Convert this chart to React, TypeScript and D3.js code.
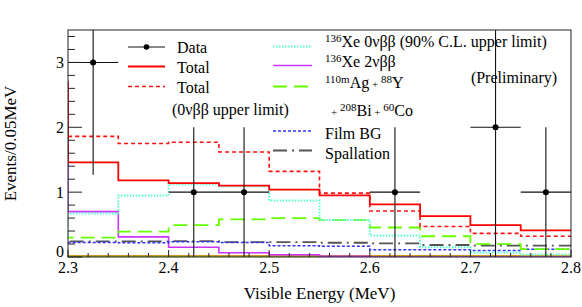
import React from 'react';
import * as d3 from 'd3';

// lower bin edges (first bin sits left of the frame, only its edge shows)
const binLow = [2.25, 2.3, 2.35, 2.4, 2.45, 2.5, 2.55, 2.6, 2.65, 2.7, 2.75];
const binWidth = 0.05;

const total = [2.66, 1.46, 1.18, 1.14, 1.1, 1.04, 0.95, 0.81, 0.63, 0.49, 0.41];
const totalUL = [2.7, 1.86, 1.75, 1.77, 1.62, 1.32, 0.985, 0.71, 0.47, 0.365, 0.32];
const xe0nu = [0.32, 0.67, 0.95, 1.12, 1.09, 0.87, 0.57, 0.33, 0.15, 0.07, 0.04];
const xe2nu = [1.75, 0.7, 0.31, 0.15, 0.066, 0.035, 0.01, 0, 0, 0, 0];
const agBiCo = [0.3, 0.3, 0.39, 0.49, 0.58, 0.6, 0.57, 0.455, 0.32, 0.2, 0.12];
const filmBG = [0.225, 0.225, 0.22, 0.235, 0.225, 0.175, 0.165, 0.11, 0.11, 0.1, 0.12];
const spallation = [0.24, 0.24, 0.24, 0.245, 0.23, 0.23, 0.22, 0.21, 0.185, 0.175, 0.175];
const otherA = [0.02, 0.02, 0.02, 0.02, 0.02, 0.02, 0.02, 0.02, 0.02, 0.02, 0.02];
const otherB = [0, 0, 0, 0, 0, 0, 0, 0, 0, 0, 0];

const dataX = [2.325, 2.425, 2.475, 2.625, 2.725, 2.775];
const dataY = [3, 1, 1, 1, 2, 1];
const dataErrLow = [1.73, 1, 1, 1, 2, 1];
const dataErrHigh = [1.73, 1, 1, 1, 2, 1];

const xTicks = [2.3, 2.4, 2.5, 2.6, 2.7, 2.8];
const yTicks = [0, 1, 2, 3];

const W = 582;
const H = 307;
const m = { left: 68, right: 11, top: 30, bottom: 50 };
const font = '"Liberation Serif", "DejaVu Serif", serif';

const App = () => {
  const x = d3.scaleLinear().domain([2.3, 2.8]).range([m.left, W - m.right]);
  const y = d3.scaleLinear().domain([0, 3.5]).range([H - m.bottom, m.top]);

  const step = (vals: number[]) => {
    const pts: [number, number][] = binLow.map((lo, i) => [lo, vals[i]]);
    pts.push([binLow[binLow.length - 1] + binWidth, vals[vals.length - 1]]);
    return d3.line<[number, number]>()
      .x(d => x(d[0]))
      .y(d => y(d[1]))
      .curve(d3.curveStepAfter)(pts) as string;
  };

  const series = [
    { vals: otherB, color: '#66dd00', dash: '', w: 2 },
    { vals: otherA, color: '#cc9922', dash: '', w: 1.5 },
    { vals: xe2nu, color: '#cc33ff', dash: '', w: 1.6 },
    { vals: spallation, color: '#555555', dash: '14,5,2,5', w: 1.8 },
    { vals: filmBG, color: '#3333ff', dash: '3,2', w: 1.5 },
    { vals: agBiCo, color: '#66ff00', dash: '14,7', w: 1.8 },
    { vals: xe0nu, color: '#55ffcc', dash: '1.5,1.5', w: 2 },
    { vals: totalUL, color: '#ff1111', dash: '4,3', w: 1.6 },
    { vals: total, color: '#ff0000', dash: '', w: 1.8 },
  ];

  const xMinor = d3.range(2.3, 2.8001, 0.02);
  const yMinor = d3.range(0, 3.5001, 0.2);

  const sup = { fontSize: 11 };
  const legendFont = 16;

  return (
    <div style={{ position: 'absolute', left: 0, top: 0 }}>
      <svg width={W} height={H} style={{ display: 'block', background: '#fff' }} fontFamily={font}>
        <defs>
          <clipPath id="plot">
            <rect x={m.left} y={m.top} width={W - m.left - m.right} height={H - m.top - m.bottom} />
          </clipPath>
        </defs>

        <g clipPath="url(#plot)">
          {series.map((s, i) => (
            <path key={i} d={step(s.vals)} fill="none" stroke={s.color}
              strokeWidth={s.w} strokeDasharray={s.dash || undefined} />
          ))}
          {dataX.map((dx, i) => (
            <g key={i} stroke="#111" strokeWidth={1.1}>
              <line x1={x(dx - binWidth / 2)} x2={x(dx + binWidth / 2)} y1={y(dataY[i])} y2={y(dataY[i])} />
              <line x1={x(dx)} x2={x(dx)} y1={y(dataY[i] - dataErrLow[i])} y2={y(dataY[i] + dataErrHigh[i])} />
              <circle cx={x(dx)} cy={y(dataY[i])} r={3} fill="#000" stroke="none" />
            </g>
          ))}
        </g>

        {/* frame */}
        <rect x={m.left} y={m.top} width={W - m.left - m.right} height={H - m.top - m.bottom}
          fill="none" stroke="#222" strokeWidth={1} />

        {/* x axis ticks */}
        {xMinor.map((t, i) => (
          <line key={'xm' + i} x1={x(t)} x2={x(t)} y1={y(0)} y2={y(0) - (i % 5 === 0 ? 7 : 4)}
            stroke="#222" strokeWidth={1} />
        ))}
        {xTicks.map(t => (
          <text key={'xt' + t} x={x(t)} y={273} textAnchor="middle" fontSize={16}>{t.toFixed(1)}</text>
        ))}

        {/* y axis ticks */}
        {yMinor.map((t, i) => (
          <line key={'ym' + i} x1={m.left} x2={m.left + (i % 5 === 0 ? 14 : 7)} y1={y(t)} y2={y(t)}
            stroke="#222" strokeWidth={1} />
        ))}
        {yTicks.map(t => (
          <text key={'yt' + t} x={64} y={t === 0 ? y(t) - 6 : y(t)} dy="0.35em" textAnchor="end" fontSize={16}>{t}</text>
        ))}

        <text x={(m.left + W - m.right) / 2} y={299} textAnchor="middle" fontSize={17}>Visible Energy (MeV)</text>
        <text transform={`translate(16,${(m.top + H - m.bottom) / 2}) rotate(-90)`} textAnchor="middle" fontSize={17}>
          Events/0.05MeV
        </text>

        {/* legend left column */}
        <g fontSize={legendFont}>
          <line x1={128} x2={165} y1={47} y2={47} stroke="#111" strokeWidth={1.1} />
          <circle cx={146.5} cy={47} r={2.8} fill="#000" />
          <text x={177} y={47} dy="0.35em">Data</text>

          <line x1={128} x2={165} y1={66.5} y2={66.5} stroke="#ff0000" strokeWidth={1.8} />
          <text x={177} y={67} dy="0.35em">Total</text>

          <line x1={128} x2={165} y1={86.5} y2={86.5} stroke="#ff1111" strokeWidth={1.6} strokeDasharray="4,3" />
          <text x={177} y={87} dy="0.35em">Total</text>
          <text x={172} y={109} dy="0.35em">(0νββ upper limit)</text>

          {/* right column */}
          <line x1={273} x2={312} y1={46.5} y2={46.5} stroke="#55ffcc" strokeWidth={2} strokeDasharray="1.5,1.5" />
          <text x={325} y={47} dy="0.35em">
            <tspan style={sup} dy="-5">136</tspan><tspan dy="5">Xe 0νββ (90% C.L. upper limit)</tspan>
          </text>

          <line x1={273} x2={312} y1={65.5} y2={65.5} stroke="#cc33ff" strokeWidth={1.6} />
          <text x={325} y={67} dy="0.35em">
            <tspan style={sup} dy="-5">136</tspan><tspan dy="5">Xe 2νββ</tspan>
          </text>

          <line x1={273} x2={312} y1={86.5} y2={86.5} stroke="#66ff00" strokeWidth={1.8} strokeDasharray="14,7" />
          <text x={325} y={88} dy="0.35em">
            <tspan style={sup} dy="-5">110m</tspan><tspan dy="5">Ag</tspan>
            <tspan style={sup}> + </tspan>
            <tspan style={sup} dy="-5">88</tspan><tspan dy="5">Y</tspan>
          </text>
          <text x={331} y={110} dy="0.35em">
            <tspan style={sup}>+ </tspan>
            <tspan style={sup} dy="-5">208</tspan><tspan dy="5">Bi</tspan>
            <tspan style={sup}> + </tspan>
            <tspan style={sup} dy="-5">60</tspan><tspan dy="5">Co</tspan>
          </text>

          <line x1={273} x2={312} y1={131} y2={131} stroke="#3333ff" strokeWidth={1.5} strokeDasharray="3,2" />
          <text x={325} y={133} dy="0.35em">Film BG</text>

          <line x1={273} x2={312} y1={150.5} y2={150.5} stroke="#555555" strokeWidth={1.8} strokeDasharray="14,5,2,5" />
          <text x={325} y={153} dy="0.35em">Spallation</text>

          <text x={514} y={77} dy="0.35em" textAnchor="middle">(Preliminary)</text>
        </g>
      </svg>
    </div>
  );
};

export default App;
